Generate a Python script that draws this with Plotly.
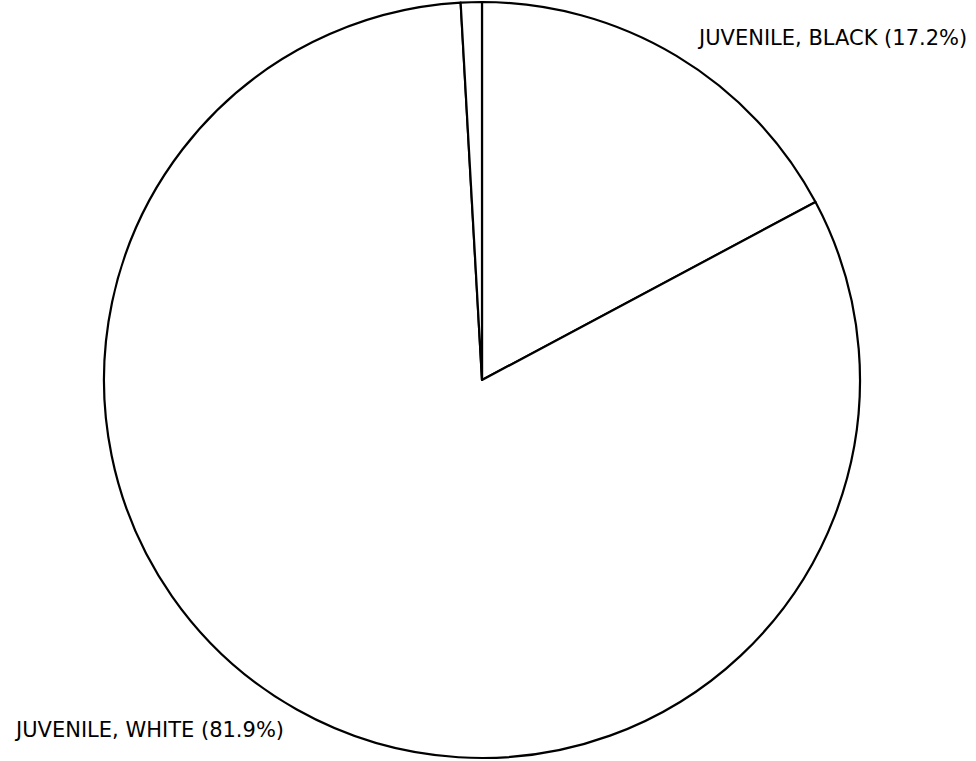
import plotly.graph_objects as go

# slices, clockwise from 12 o'clock
labels = ["JUVENILE, BLACK", "JUVENILE, WHITE", "OTHER"]
values = [17.2, 81.9, 0.9]

W, H = 976, 761

fig = go.Figure()
fig.add_trace(go.Pie(
    labels=labels,
    values=values,
    sort=False,
    direction="clockwise",
    rotation=0,
    textinfo="none",
    hoverinfo="label+percent",
    marker=dict(colors=["white"] * 3, line=dict(color="black", width=2.2)),
    domain=dict(x=[104 / W, 860 / W], y=[3 / H, 759 / H]),
    showlegend=False,
))

font = dict(family="DejaVu Sans", size=21, color="black")
# labels for the two big slices (positions given in pixels from top-left)
fig.add_annotation(text=f"{labels[0]} ({values[0]}%)",
                   x=969 / W, y=1 - 38 / H, xanchor="right", yanchor="middle",
                   xref="paper", yref="paper", showarrow=False, font=font)
fig.add_annotation(text=f"{labels[1]} ({values[1]}%)",
                   x=12 / W, y=1 - 730 / H, xanchor="left", yanchor="middle",
                   xref="paper", yref="paper", showarrow=False, font=font)

fig.update_layout(
    width=W, height=H,
    margin=dict(l=0, r=0, t=0, b=0),
    paper_bgcolor="white",
    plot_bgcolor="white",
)
# drop the default 8px page margin so the figure sits at the window corner
fig.write_html("out.html", config={"displayModeBar": False},
               post_script="document.body.style.margin='0';")
